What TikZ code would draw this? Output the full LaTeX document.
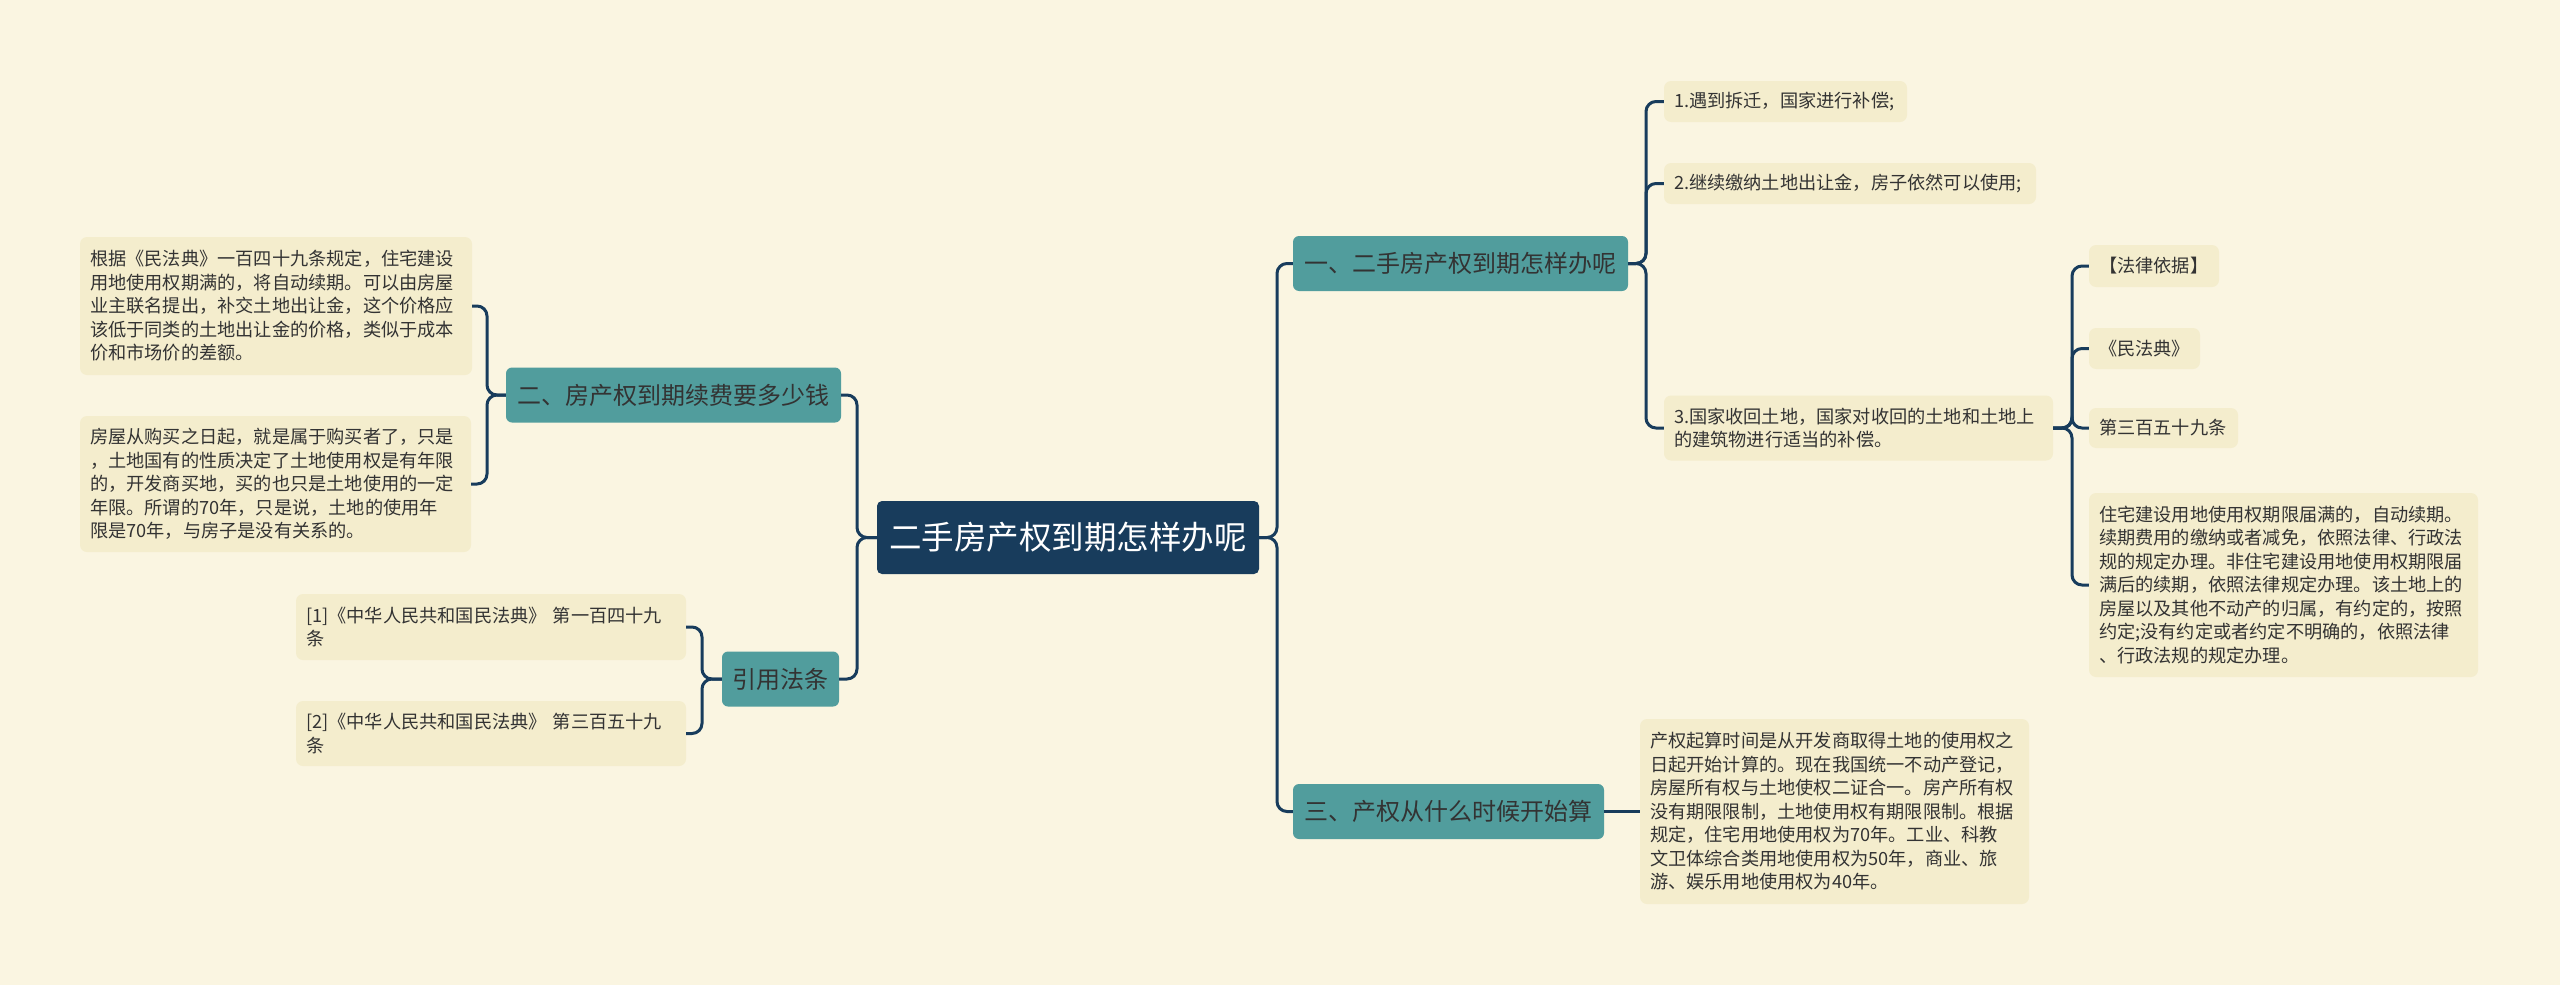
\documentclass[tikz,border=0pt]{standalone}
\usepackage{fontspec}
\setmainfont{Noto Sans CJK SC}
\definecolor{paper}{HTML}{FAF5E1}
\definecolor{navy}{HTML}{183C5C}
\definecolor{topicteal}{HTML}{519D9D}
\definecolor{leafbg}{HTML}{F4EDCD}
\definecolor{ink}{HTML}{333333}

\begin{document}
\begin{tikzpicture}[x=1pt,y=-1pt,
  root/.style={fill=navy,text=white,rounded corners=5pt,inner sep=0pt,minimum width=382pt,minimum height=73pt,font=\fontsize{32.5}{38}\selectfont},
  topic/.style={fill=topicteal,text=ink,rounded corners=6pt,inner sep=0pt,minimum height=55pt,font=\fontsize{24}{28}\selectfont},
  leaf/.style={fill=leafbg,text=ink,rounded corners=7pt,inner xsep=10pt,inner ysep=0pt,align=left,font=\fontsize{18.2}{23.5}\selectfont},
  link/.style={draw=navy,line width=3pt,rounded corners=10pt}]
  \fill[paper] (0,0) rectangle (2560,985);
  \useasboundingbox (0,0) rectangle (2560,985);
  % centre and main topics
  \node[root] (main) at (1068,537.5) {二手房产权到期怎样办呢};
  \node[topic,minimum width=335pt] (b1) at (1460.5,263.5) {一、二手房产权到期怎样办呢};
  \node[topic,minimum width=311pt] (b3) at (1448.5,811.5) {三、产权从什么时候开始算};
  \node[topic,minimum width=335pt] (b2) at (673.5,395) {二、房产权到期续费要多少钱};
  \node[topic,minimum width=117pt] (b4) at (780.5,679) {引用法条};
  % left leaves
  \node[leaf,text width=372pt,minimum height=138pt] (ja) at (276,306) {根据《民法典》一百四十九条规定，住宅建设\\用地使用权期满的，将自动续期。可以由房屋\\业主联名提出，补交土地出让金，这个价格应\\该低于同类的土地出让金的价格，类似于成本\\价和市场价的差额。};
  \node[leaf,text width=371pt,minimum height=136pt] (jb) at (275.5,484) {房屋从购买之日起，就是属于购买者了，只是\\，土地国有的性质决定了土地使用权是有年限\\的，开发商买地，买的也只是土地使用的一定\\年限。所谓的70年，只是说，土地的使用年\\限是70年，与房子是没有关系的。};
  \node[leaf,text width=370pt,minimum height=66pt] (c1) at (491,627) {[1]《中华人民共和国民法典》 第一百四十九\\条};
  \node[leaf,text width=370pt,minimum height=65pt] (c2) at (491,733.5) {[2]《中华人民共和国民法典》 第三百五十九\\条};
  % right leaves
  \node[leaf,text width=223pt,minimum height=41pt] (r1) at (1785.5,101.5) {1.遇到拆迁，国家进行补偿;};
  \node[leaf,text width=352pt,minimum height=41pt] (r2) at (1850,183.5) {2.继续缴纳土地出让金，房子依然可以使用;};
  \node[leaf,text width=369pt,minimum height=65pt] (r3) at (1858.5,428) {3.国家收回土地，国家对收回的土地和土地上\\的建筑物进行适当的补偿。};
  \node[leaf,text width=110pt,minimum height=42pt] (q1) at (2154,266) {【法律依据】};
  \node[leaf,text width=91pt,minimum height=41pt] (q2) at (2144.5,348.5) {《民法典》};
  \node[leaf,text width=129pt,minimum height=40pt] (q3) at (2163.5,428) {第三百五十九条};
  \node[leaf,text width=369pt,minimum height=184pt] (q4) at (2283.5,585) {住宅建设用地使用权期限届满的，自动续期。\\续期费用的缴纳或者减免，依照法律、行政法\\规的规定办理。非住宅建设用地使用权期限届\\满后的续期，依照法律规定办理。该土地上的\\房屋以及其他不动产的归属，有约定的，按照\\约定;没有约定或者约定不明确的，依照法律\\、行政法规的规定办理。};
  \node[leaf,text width=369pt,minimum height=185pt] (t1) at (1834.5,811.5) {产权起算时间是从开发商取得土地的使用权之\\日起开始计算的。现在我国统一不动产登记，\\房屋所有权与土地使权二证合一。房产所有权\\没有期限限制，土地使用权有期限限制。根据\\规定，住宅用地使用权为70年。工业、科教\\文卫体综合类用地使用权为50年，商业、旅\\游、娱乐用地使用权为40年。};
  % spines
  \coordinate (rs) at (1277,0);
  \coordinate (ls) at (857,0);
  \coordinate (s1x) at (1646,0);
  \coordinate (s3x) at (2072,0);
  \coordinate (s2x) at (487,0);
  \coordinate (s4x) at (702,0);
  % connectors
  \foreach \t in {b1,b3} \draw[link] (main.east) -- (main.east -| rs) |- (\t.west);
  \foreach \t in {b2,b4} \draw[link] (main.west) -- (main.west -| ls) |- (\t.east);
  \foreach \t in {r1,r2,r3} \draw[link] (b1.east) -- (b1.east -| s1x) |- (\t.west);
  \foreach \t in {q1,q2,q3,q4} \draw[link] (r3.east) -- (r3.east -| s3x) |- (\t.west);
  \draw[link] (b3.east) -- (t1.west);
  \foreach \t in {ja,jb} \draw[link] (b2.west) -- (b2.west -| s2x) |- (\t.east);
  \foreach \t in {c1,c2} \draw[link] (b4.west) -- (b4.west -| s4x) |- (\t.east);
\end{tikzpicture}
\end{document}
